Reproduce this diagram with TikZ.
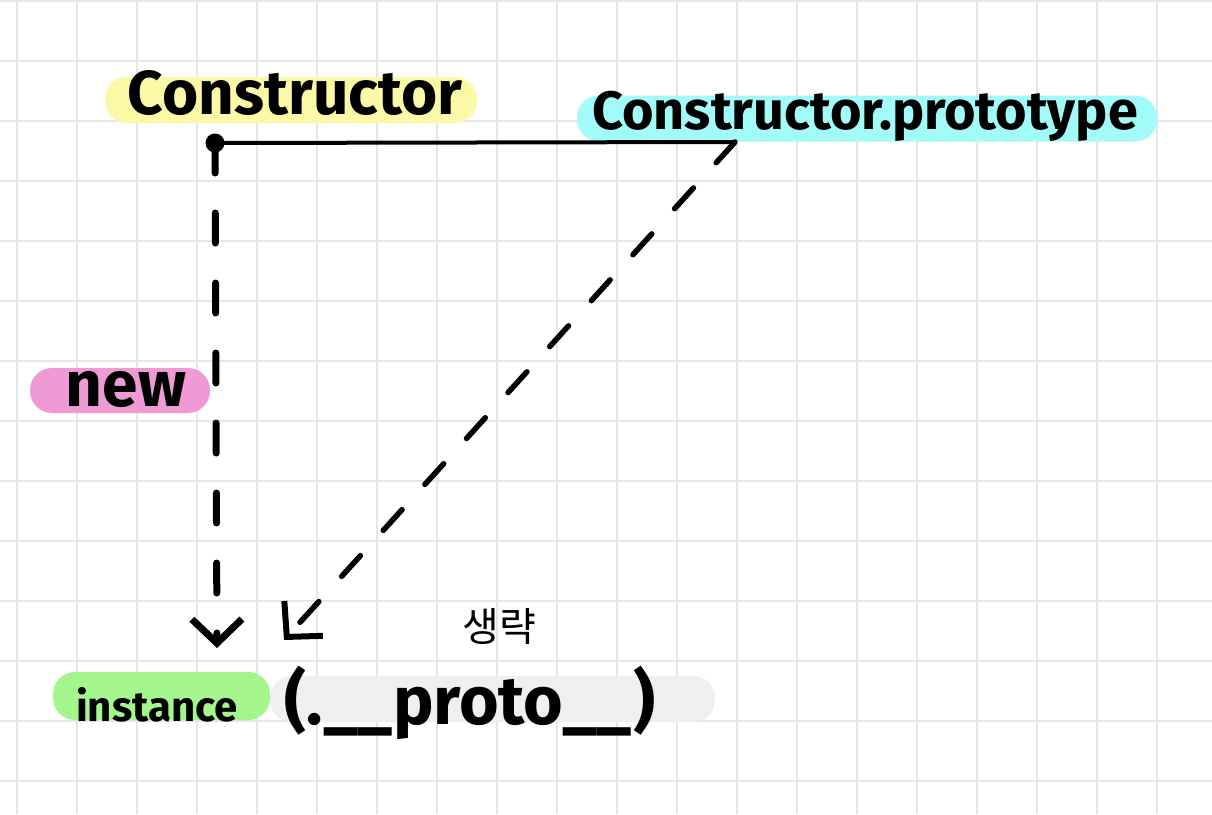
\documentclass[tikz,border=0pt]{standalone}
\usepackage{fontspec}
\setmainfont{Fira Sans}
\newfontfamily\korfont{Noto Sans CJK KR}
\usepackage{xcolor}
\usetikzlibrary{arrows.meta, positioning}

\definecolor{hlyellow}{HTML}{FCF9A6}
\definecolor{hlcyan}{HTML}{A2FBF9}
\definecolor{hlpink}{HTML}{EF9AD5}
\definecolor{hlgreen}{HTML}{A3F58C}
\definecolor{hlgray}{HTML}{EFEFEF}
\definecolor{gridgray}{HTML}{E6E6E6}

\begin{document}
\begin{tikzpicture}[x=1pt, y=-1pt,
    gridline/.style={draw=gridgray, line width=2pt},
    hilite/.style={rectangle, fill=#1, rounded corners=22pt, inner sep=0pt, minimum height=46pt},
    hand/.style={anchor=base, inner sep=0pt, font=\fontsize{#1}{#1}\selectfont\bfseries},
    link/.style={draw, line width=4pt, line cap=round},
    newline/.style={draw, line width=7pt, line cap=round, dash pattern=on 30pt off 40pt,
        -{Straight Barb[length=24pt, width=50pt, line width=7pt]}},
    protoline/.style={draw, line width=5.5pt, line cap=round, dash pattern=on 28pt off 34pt,
        -{Straight Barb[length=25pt, width=52pt, line width=6pt]}}]

    \useasboundingbox (0,0) rectangle (1212,814);
    \fill[white] (0,0) rectangle (1212,814);

    % Grid paper
    \foreach \x in {17,77,...,1157}
        \draw[gridline] (\x,0) -- (\x,814);
    \foreach \y in {1,61,...,781}
        \draw[gridline] (0,\y) -- (1212,\y);

    % Highlights
    \node [hilite=hlyellow, minimum width=372pt] (ctorbg) at (291,100) {};
    \node [hilite=hlcyan, minimum width=580pt] (protobg) at (867,118.5) {};
    \node [hilite=hlpink, minimum width=180pt, minimum height=45pt] (newbg) at (120,390.5) {};
    \node [hilite=hlgray, minimum width=445pt] (linkbg) at (492.5,699) {};
    \node [hilite=hlgreen, minimum width=217pt, minimum height=48pt] (instbg) at (161.5,696) {};

    % Nodes
    \node [hand=62] (ctor) at (295,114) {Constructor};
    \node [hand=54] (proto) at (865,129) {Constructor.prototype};
    \node [hand=64] (new) at (126,406) {new};
    \node [hand=42] (inst) at (157,721) {instance};
    \node [hand=68] (protolink) at (470,724) {(.\_\_proto\_\_)};
    \node [font=\korfont\fontsize{40}{40}\selectfont] (omit) at (499,627) {생략};

    % Points of the connectors
    \node [circle, fill, inner sep=0pt, minimum size=19pt] (ctordot) at (215,143) {};
    \coordinate (protofoot) at (735,142);
    \coordinate (insttop) at (217,648);
    \coordinate (instlink) at (284,640);

    % Paths
    \path [link] (ctordot.center) -- (protofoot);
    \path [newline] (ctordot.center) -- (insttop);
    \path [protoline] (protofoot) -- (instlink);

\end{tikzpicture}
\end{document}
